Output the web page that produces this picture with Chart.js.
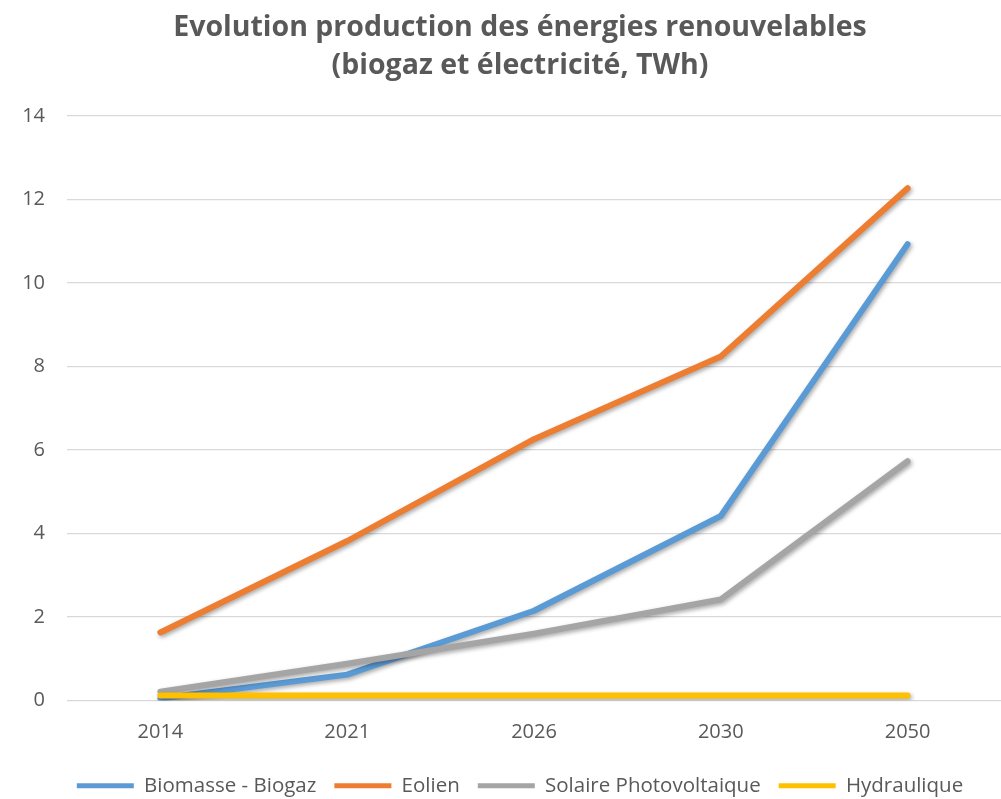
<!DOCTYPE html>
<html>
<head>
<meta charset="utf-8">
<script src="https://cdn.jsdelivr.net/npm/chart.js@4"></script>
<style>
html,body{margin:0;padding:0;background:#fff;}
#wrap{width:1001px;height:799px;position:relative;}
</style>
</head>
<body>
<div id="wrap"><canvas id="c" width="1001" height="799"></canvas></div>
<script>
const years = ['2014', '2021', '2026', '2030', '2050'];
const biomasse = [0.05, 0.62, 2.15, 4.42, 10.93];
const eolien = [1.63, 3.82, 6.26, 8.24, 12.27];
const solaire = [0.21, 0.88, 1.6, 2.42, 5.73];
const hydraulique = [0.12, 0.12, 0.12, 0.12, 0.12];
const seriesNames = ['Biomasse - Biogaz', 'Eolien', 'Solaire Photovoltaique', 'Hydraulique'];
const seriesColors = ['#5B9BD5', '#ED7D31', '#A5A5A5', '#FFC000'];
const yTicks = [0, 2, 4, 6, 8, 10, 12, 14];

const FONT = "'Open Sans', 'DejaVu Sans', sans-serif";
const TXT = '#595959';

const shadowPlugin = {
  id: 'lineShadow',
  beforeDatasetDraw(chart) {
    const ctx = chart.ctx;
    ctx.save();
    ctx.shadowColor = 'rgba(0,0,0,0.35)';
    ctx.shadowBlur = 4;
    ctx.shadowOffsetX = 1.5;
    ctx.shadowOffsetY = 2;
  },
  afterDatasetDraw(chart) {
    chart.ctx.restore();
  }
};

const allData = [biomasse, eolien, solaire, hydraulique];
const datasets = allData.map((d, i) => ({
  label: seriesNames[i],
  data: d,
  borderColor: seriesColors[i],
  backgroundColor: seriesColors[i],
  borderWidth: 6,
  borderCapStyle: 'round',
  borderJoinStyle: 'round',
  pointRadius: 0,
  pointHoverRadius: 0,
  tension: 0,
  fill: false,
  order: 4 - i
}));

new Chart(document.getElementById('c'), {
  type: 'line',
  data: { labels: years, datasets },
  plugins: [shadowPlugin],
  options: {
    responsive: false,
    animation: false,
    layout: { padding: { left: 0, right: -39, top: 9, bottom: -7 } },
    scales: {
      x: {
        offset: true,
        grid: { display: false, drawTicks: false },
        border: { display: false },
        ticks: { color: TXT, font: { family: FONT, size: 20 }, padding: 20 },
        afterFit(s) { s.height = 57; }
      },
      y: {
        min: 0, max: 14,
        afterBuildTicks(s) { s.ticks = yTicks.map(v => ({ value: v })); },
        grid: { color: '#D9D9D9', lineWidth: 1.3, drawTicks: false },
        border: { display: false },
        ticks: { color: TXT, font: { family: FONT, size: 20 }, padding: 22 },
        afterFit(s) { s.width = 67; }
      },
      yRight: {
        position: 'right',
        min: 0, max: 14,
        grid: { display: false, drawTicks: false },
        border: { display: false },
        ticks: { display: false },
        afterFit(s) { s.width = 34; }
      }
    },
    plugins: {
      title: {
        display: true,
        text: ['Evolution production des énergies renouvelables', '(biogaz et électricité, TWh)'],
        color: TXT,
        font: { family: FONT, size: 28.5, weight: 'bold', lineHeight: 1.333 },
        padding: { top: 0, bottom: 31 }
      },
      legend: {
        position: 'bottom',
        labels: {
          color: TXT,
          font: { family: FONT, size: 20.5 },
          boxWidth: 57,
          boxHeight: 5,
          useBorderRadius: true,
          borderRadius: 2.5,
          padding: 18,
          sort: (a, b) => a.datasetIndex - b.datasetIndex,
          generateLabels(chart) {
            return chart.data.datasets.map((ds, i) => ({
              text: ds.label,
              fillStyle: ds.borderColor,
              strokeStyle: ds.borderColor,
              lineWidth: 0,
              fontColor: TXT,
              hidden: false,
              datasetIndex: i
            }));
          }
        }
      },
      tooltip: { enabled: false }
    }
  }
});
</script>
</body>
</html>
